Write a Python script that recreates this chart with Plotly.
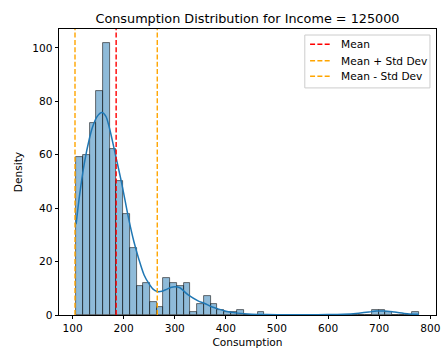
import plotly.graph_objects as go

# Histogram of consumption for households with income = 125000
bin_start = 107.0
bin_width = 13.15
counts = [59, 60, 72, 84, 102, 62, 50, 38, 25, 11,
          12, 5, 3, 14, 12, 11, 12, 1, 4, 7,
          4, 2, 1, 1, 2, 0, 0, 1, 0, 0,
          0, 0, 0, 0, 0, 0, 0, 0, 0, 0,
          0, 0, 0, 0, 2, 2, 1, 0, 0, 0,
          1]

# Kernel density estimate, scaled to counts
kde_x = [107, 113.5, 123.2, 132.9, 139.3, 148, 157.4, 165, 171.6, 184.5,
         196, 210.3, 220, 229.6, 240, 248.9, 257, 265.8, 275, 284,
         292, 300.6, 310, 326.3, 345.6, 358.6, 372, 384.3, 400, 423,
         450, 480, 520, 560, 600, 630, 660, 680, 695, 710,
         730, 755, 777.7]
kde_y = [34, 44.5, 57, 66, 70.5, 74.3, 75.8, 74.5, 70.5, 59.5,
         49.5, 35.6, 27.5, 21, 15, 11.9, 9.8, 8.8, 8.9, 9.6,
         10.3, 10.6, 10.2, 7.5, 5.3, 4.3, 3.1, 2.3, 1.4, 0.7,
         0.3, 0.15, 0.1, 0.1, 0.15, 0.3, 0.7, 1.1, 1.5, 1.5,
         1.1, 0.5, 0.3]

mean_value = 185.3
std_value = 80.5

x_ticks = [100, 200, 300, 400, 500, 600, 700, 800]
y_ticks = [0, 20, 40, 60, 80, 100]

line_names = ["Mean", "Mean + Std Dev", "Mean - Std Dev"]
line_values = [mean_value, mean_value + std_value, mean_value - std_value]
line_colors = ["red", "orange", "orange"]

centers = [bin_start + bin_width * (i + 0.5) for i in range(len(counts))]
y_top = max(counts) * 1.05
dash = "5px,2.3px"

font_family = "DejaVu Sans"
label_font = dict(family=font_family, size=10.6, color="black")

fig = go.Figure()
fig.add_trace(go.Bar(
    x=centers, y=counts, width=bin_width,
    marker=dict(color="rgba(31,119,180,0.5)",
                line=dict(color="rgba(20,20,20,0.75)", width=0.8)),
    showlegend=False, hoverinfo="skip",
))
fig.add_trace(go.Scatter(
    x=kde_x, y=kde_y, mode="lines",
    line=dict(color="#1f77b4", width=1.5, shape="spline", smoothing=0.8),
    showlegend=False, hoverinfo="skip",
))
for name, xv, col in zip(line_names, line_values, line_colors):
    fig.add_trace(go.Scatter(
        x=[xv, xv], y=[0, y_top], mode="lines", name=name,
        line=dict(color=col, width=1.4, dash=dash), showlegend=False,
    ))

# Legend box drawn in the upper-right corner of the axes
shapes = [dict(type="rect", xref="paper", yref="paper",
               x0=0.652, x1=0.984, y0=0.794, y1=0.979,
               fillcolor="rgba(255,255,255,0.8)",
               line=dict(color="#cccccc", width=1), layer="above")]
annotations = []
row_y = [0.9465, 0.889, 0.8346]
for name, col, ry in zip(line_names, line_colors, row_y):
    shapes.append(dict(type="line", xref="paper", yref="paper",
                       x0=0.666, x1=0.7225, y0=ry, y1=ry, layer="above",
                       line=dict(color=col, width=1.4, dash=dash)))
    annotations.append(dict(text=name, xref="paper", yref="paper",
                            x=0.744, y=ry, xanchor="left", yanchor="middle",
                            showarrow=False, font=label_font))

fig.update_layout(
    width=446, height=352,
    margin=dict(l=59, r=5, t=29, b=37),
    paper_bgcolor="white", plot_bgcolor="white",
    bargap=0, showlegend=False,
    shapes=shapes, annotations=annotations,
    font=label_font,
    title=dict(text="Consumption Distribution for Income = 125000",
               x=0.5, xref="paper", xanchor="center",
               y=1 - 19 / 352, yref="container", yanchor="middle",
               font=dict(family=font_family, size=12.8, color="black")),
    xaxis=dict(range=[73.5, 811.2], tickvals=x_ticks,
               tickfont=label_font,
               showline=True, mirror=True, linecolor="black", linewidth=0.8,
               ticks="outside", ticklen=3.5, tickwidth=0.8, tickcolor="black",
               showgrid=False, zeroline=False,
               title=dict(text="Consumption", standoff=5, font=label_font)),
    yaxis=dict(range=[0, y_top], tickvals=y_ticks,
               tickfont=label_font,
               showline=True, mirror=True, linecolor="black", linewidth=0.8,
               ticks="outside", ticklen=3.5, tickwidth=0.8, tickcolor="black",
               showgrid=False, zeroline=False,
               title=dict(text="Density", standoff=7, font=label_font)),
)

fig.write_html("out.html")
